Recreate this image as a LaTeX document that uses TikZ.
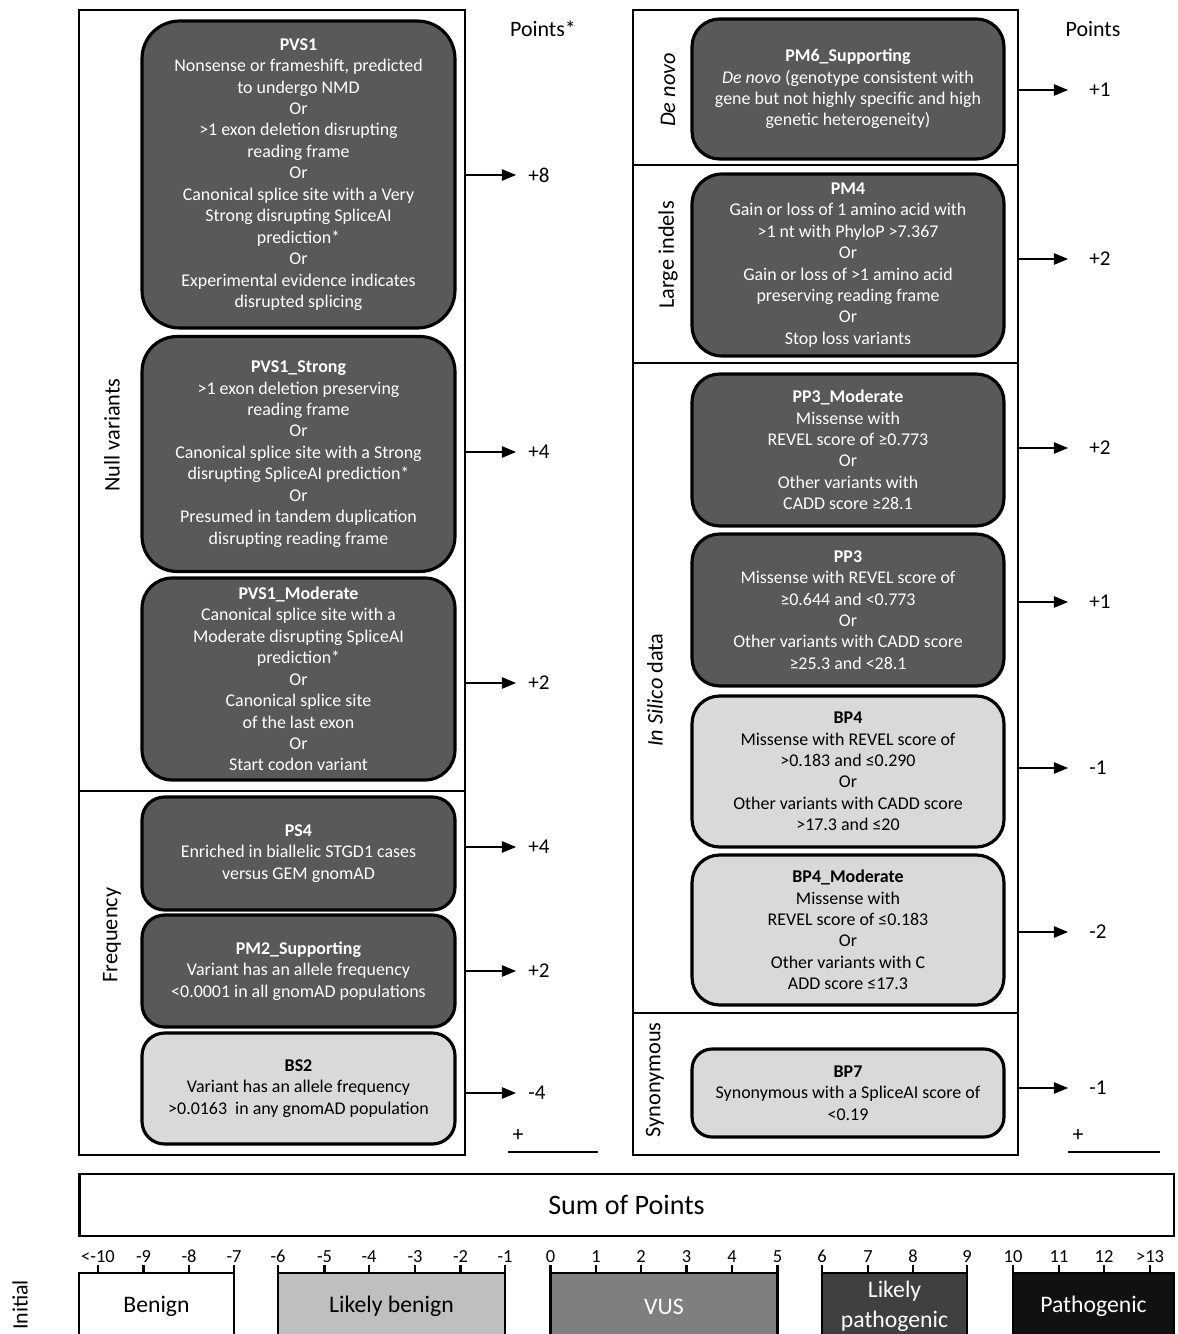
\documentclass[tikz,border=0pt]{standalone}
\usepackage{fontspec}
\setmainfont{Carlito}
\usepackage{tikz}
\usetikzlibrary{arrows.meta, calc, positioning}
\definecolor{critdark}{HTML}{595959}
\definecolor{critlight}{HTML}{D9D9D9}
\definecolor{lbgray}{HTML}{BFBFBF}
\definecolor{vusgray}{HTML}{7F7F7F}
\definecolor{lpgray}{HTML}{404040}
\definecolor{pathblack}{HTML}{111111}
\tikzset{
  sect/.style={draw, line width=1.6pt, inner sep=0pt, minimum width=7.72cm},
  crit/.style={draw, line width=1.8pt, fill=critdark, text=white, align=center, inner sep=0pt,
               minimum width=6.26cm, font=\fontsize{10.2}{12.2}\selectfont},
  critb/.style={crit, fill=critlight, text=black},
  sidelab/.style={rotate=90, inner sep=0pt, font=\fontsize{12.7}{15}\selectfont},
  arr/.style={-{Triangle[length=8pt,width=6.5pt]}, line width=0.6pt},
  ptsl/.style={anchor=west, inner ysep=0pt, inner xsep=6.8pt, font=\fontsize{12}{14}\selectfont},
  ptsr/.style={ptsl, inner xsep=12pt},
  cls/.style={draw, line width=1.6pt, inner sep=0pt, minimum height=1.34cm, align=center,
              font=\fontsize{13.5}{17}\selectfont},
  tick/.style={line width=1.2pt}
}
\begin{document}
\begin{tikzpicture}[x=0.02cm, y=-0.02cm]
  \useasboundingbox (0,0) rectangle (1177,1334);
  \clip (0,0) rectangle (1177,1334);
  % sections
  \node[sect, minimum height=15.62cm] (nullsec) at (272,400.5) {};
  \node[sect, minimum height=7.28cm] (freqsec) at (272,973) {};
  \node[sect, minimum width=7.7cm, minimum height=3.1cm] (denovosec) at (825.5,87.5) {};
  \node[sect, minimum width=7.7cm, minimum height=3.96cm] (indelsec) at (825.5,264) {};
  \node[sect, minimum width=7.7cm, minimum height=13cm] (silicosec) at (825.5,688) {};
  \node[sect, minimum width=7.7cm, minimum height=2.84cm] (synsec) at (825.5,1084) {};
  \node[sidelab] (nulllab) at (112,435) {Null variants};
  \node[sidelab] (freqlab) at (112,935) {Frequency};
  \node[sidelab] (denovolab) at (668,90) {\textit{De novo}};
  \node[sidelab] (indellab) at (668,255) {Large indels};
  \node[sidelab] (silicolab) at (655,690) {\textit{In Silico} data};
  \node[sidelab] (synlab) at (655,1080) {Synonymous};
  % left criteria
  \node[crit, minimum height=6.14cm, rounded corners=0.75cm] (pvsone) at (298.5,174.5)
    {\textbf{PVS1}\\Nonsense or frameshift, predicted\\to undergo NMD\\Or\\>1 exon deletion disrupting\\reading frame\\Or\\Canonical splice site with a Very\\Strong disrupting SpliceAI\\prediction*\\Or\\Experimental evidence indicates\\disrupted splicing};
  \node[crit, minimum height=4.7cm, rounded corners=0.7cm] (pvsstrong) at (298.5,454)
    {\textbf{PVS1\_Strong}\\>1 exon deletion preserving\\reading frame\\Or\\Canonical splice site with a Strong\\disrupting SpliceAI prediction*\\Or\\Presumed in tandem duplication\\disrupting reading frame};
  \node[crit, minimum height=4.04cm, rounded corners=0.6cm] (pvsmod) at (298.5,679)
    {\textbf{PVS1\_Moderate}\\Canonical splice site with a\\Moderate disrupting SpliceAI\\prediction*\\Or\\Canonical splice site\\of the last exon\\Or\\Start codon variant};
  \node[crit, minimum height=2.26cm, rounded corners=0.45cm] (psfour) at (298.5,853.5)
    {\textbf{PS4}\\Enriched in biallelic STGD1 cases\\versus GEM gnomAD};
  \node[crit, minimum height=2.24cm, rounded corners=0.45cm] (pmtwo) at (298.5,971)
    {\textbf{PM2\_Supporting}\\Variant has an allele frequency\\<0.0001 in all gnomAD populations};
  \node[critb, minimum height=2.22cm, rounded corners=0.45cm] (bstwo) at (298.5,1088.5)
    {\textbf{BS2}\\Variant has an allele frequency\\>0.0163 \ in any gnomAD population};
  % right criteria
  \node[crit, minimum width=6.24cm, minimum height=2.8cm, rounded corners=0.55cm] (pmsix) at (848,89)
    {\textbf{PM6\_Supporting}\\\textit{De novo} (genotype consistent with\\gene but not highly specific and high\\genetic heterogeneity)};
  \node[crit, minimum width=6.24cm, minimum height=3.64cm, rounded corners=0.6cm] (pmfour) at (848,265)
    {\textbf{PM4}\\Gain or loss of 1 amino acid with\\>1 nt with PhyloP >7.367\\Or\\Gain or loss of >1 amino acid\\preserving reading frame\\Or\\Stop loss variants};
  \node[crit, minimum width=6.24cm, minimum height=3.04cm, rounded corners=0.55cm] (ppthreemod) at (848,450)
    {\textbf{PP3\_Moderate}\\Missense with\\REVEL score of ≥0.773\\Or\\Other variants with\\CADD score ≥28.1};
  \node[crit, minimum width=6.24cm, minimum height=3.04cm, rounded corners=0.55cm] (ppthree) at (848,610)
    {\textbf{PP3}\\Missense with REVEL score of\\≥0.644 and <0.773\\Or\\Other variants with CADD score\\≥25.3 and <28.1};
  \node[critb, minimum width=6.24cm, minimum height=3.02cm, rounded corners=0.55cm] (bpfour) at (848,771.5)
    {\textbf{BP4}\\Missense with REVEL score of\\>0.183 and ≤0.290\\Or\\Other variants with CADD score\\>17.3 and ≤20};
  \node[critb, minimum width=6.24cm, minimum height=3cm, rounded corners=0.55cm] (bpfourmod) at (848,930)
    {\textbf{BP4\_Moderate}\\Missense with\\REVEL score of ≤0.183\\Or\\Other variants with C\\ADD score ≤17.3};
  \node[critb, minimum width=6.24cm, minimum height=1.76cm, rounded corners=0.4cm] (bpseven) at (848,1093)
    {\textbf{BP7}\\Synonymous with a SpliceAI score of\\<0.19};
  % points
  \node[font=\fontsize{12.5}{15}\selectfont] (headl) at (543,29) {Points*};
  \node[font=\fontsize{12.5}{15}\selectfont] (headr) at (1093,29) {Points};
  \node[ptsl] (ptpvsone) at (516,175) {+8};
  \node[ptsl] (ptpvsstrong) at (516,452) {+4};
  \node[ptsl] (ptpvsmod) at (516,683) {+2};
  \node[ptsl] (ptpsfour) at (516,847) {+4};
  \node[ptsl] (ptpmtwo) at (516,971) {+2};
  \node[ptsl] (ptbstwo) at (516,1093) {-4};
  \node[ptsr] (ptpmsix) at (1068,90) {+1};
  \node[ptsr] (ptpmfour) at (1068,259) {+2};
  \node[ptsr] (ptppthreemod) at (1068,448) {+2};
  \node[ptsr] (ptppthree) at (1068,602) {+1};
  \node[ptsr] (ptbpfour) at (1068,768) {-1};
  \node[ptsr] (ptbpfourmod) at (1068,932) {-2};
  \node[ptsr] (ptbpseven) at (1068,1088) {-1};
  \foreach \p/\s in {ptpvsone/nullsec, ptpvsstrong/nullsec, ptpvsmod/nullsec, ptpsfour/freqsec, ptpmtwo/freqsec,
                     ptbstwo/freqsec, ptpmsix/denovosec, ptpmfour/indelsec, ptppthreemod/silicosec,
                     ptppthree/silicosec, ptbpfour/silicosec, ptbpfourmod/silicosec, ptbpseven/synsec}
    \draw[arr] (\p.west -| \s.east) -- (\p.west);
  \node[font=\fontsize{12.5}{14}\selectfont] (plusl) at (518,1135) {+};
  \node[font=\fontsize{12.5}{14}\selectfont] (plusr) at (1078,1135) {+};
  \draw[line width=0.8pt] (508,1152) -- (598,1152) (1068,1152) -- (1160,1152);
  % sum and classes
  \node[draw, line width=1.6pt, minimum width=21.9cm, minimum height=1.24cm,
        font=\fontsize{16}{19}\selectfont] (sum) at (626.5,1205) {Sum of Points};
  \node[sidelab, font=\fontsize{12.5}{15}\selectfont] (initlab) at (20,1305) {Initial};
  \node[cls, fill=white, minimum width=3.1cm] (benign) at (156.5,1306.5) {Benign};
  \node[cls, fill=lbgray, minimum width=4.54cm] (lbenign) at (391.5,1306.5) {Likely benign};
  \node[cls, fill=vusgray, text=white, minimum width=4.54cm] (vus) at (664,1306.5) {VUS};
  \node[cls, fill=lpgray, text=white, minimum width=2.9cm] (lpath) at (894.5,1306.5) {Likely\\pathogenic};
  \node[cls, fill=pathblack, text=white, minimum width=3.22cm] (path) at (1093.5,1306.5) {Pathogenic};
  \foreach \x/\v in {98/<-10, 143.5/-9, 189/-8, 234/-7, 278/-6, 324.5/-5, 369/-4, 415/-3, 460.5/-2, 505/-1,
                     550.5/0, 596/1, 641/2, 686.5/3, 732/4, 777.5/5, 822/6, 868/7, 913/8, 967/9,
                     1013/10, 1059/11, 1104/12, 1150/>13}
    \draw[tick] (\x,1273) -- (\x,1265) node[above, inner sep=1pt, font=\fontsize{10.5}{12}\selectfont] {\v};
\end{tikzpicture}
\end{document}
